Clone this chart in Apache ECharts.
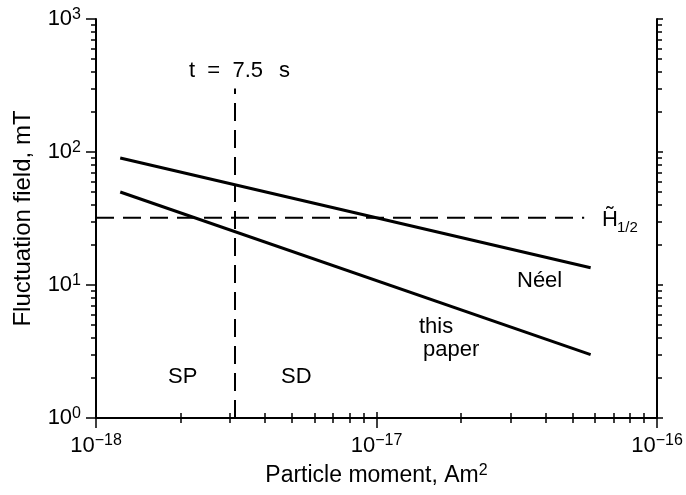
<!DOCTYPE html>
<html><head><meta charset="utf-8">
<script src="https://cdn.jsdelivr.net/npm/echarts@6/dist/echarts.min.js"></script>
<style>html,body{margin:0;padding:0;background:#fff}#c{width:686px;height:495px}</style>
</head><body><div id="c"></div>
<script>
// ---- data (real units) ----
const xMajorTicks = [1e-18, 1e-17, 1e-16];
const yMajorTicks = [1, 10, 100, 1000];
const xTickLabels = ['10{s|−18}', '10{s|−17}', '10{s|−16}'];
const yTickLabels = ['10{s|0}', '10{s|1}', '10{s|2}', '10{s|3}'];
const minorMultipliers = [2, 3, 4, 5, 6, 7, 8, 9];
const neelX = [1.22e-18, 5.8e-17];
const neelY = [90, 13.5];
const paperX = [1.22e-18, 5.8e-17];
const paperY = [50, 3.0];
const hLineX = [1e-18, 5.5e-17];
const hLineY = [32, 32];
const vLineX = [3.13e-18, 3.13e-18];
const vLineY = [1, 300];

const L = Math.log10;
const FONT = '"Liberation Sans", Arial, sans-serif';
const xMinL = L(xMajorTicks[0]), xMaxL = L(xMajorTicks[xMajorTicks.length - 1]);
const yMinL = L(yMajorTicks[0]), yMaxL = L(yMajorTicks[yMajorTicks.length - 1]);

function minors(majors) {
  const out = [];
  for (let i = 0; i < majors.length - 1; i++) minorMultipliers.forEach(m => out.push(L(majors[i] * m)));
  return out;
}
const xMinorL = minors(xMajorTicks);
const yMinorL = minors(yMajorTicks);

function labelFor(majors, labels) {
  return v => {
    for (let i = 0; i < majors.length; i++) if (Math.abs(L(majors[i]) - v) < 1e-6) return labels[i];
    return '';
  };
}
const richSup = {
  b: {fontSize: 22, fontFamily: FONT, color: '#000', lineHeight: 25},
  s: {fontSize: 16, fontFamily: FONT, color: '#000', verticalAlign: 'top', lineHeight: 16}
};
const lineSt = {show: true, lineStyle: {color: '#000', width: 2}};

function makeAxis(pos, minL, maxL, majors, labels, isMinor, showLabels, showLine) {
  const ax = {
    type: 'value', position: pos, min: minL, max: maxL, interval: 1,
    splitLine: {show: false},
    axisLine: showLine ? lineSt : {show: false},
    axisTick: {show: true, inside: false, length: isMinor ? 5 : 10, lineStyle: {color: '#000', width: 1.5}},
    axisLabel: {show: false}
  };
  if (isMinor) ax.axisTick.customValues = (pos === 'bottom' || pos === 'top') ? xMinorL : yMinorL;
  if (pos === 'top' || pos === 'right') { ax.axisTick.length = isMinor ? 5 : 6; }
  if (showLabels) {
    const f = labelFor(majors, labels);
    ax.axisLabel = {
      show: true, margin: 15,
      formatter: v => '{b|' + f(v).replace(/\{s\|/, '}{s|'),
      rich: richSup
    };
  }
  return ax;
}

const xAxes = [
  makeAxis('bottom', xMinL, xMaxL, xMajorTicks, xTickLabels, false, true, true),
  makeAxis('bottom', xMinL, xMaxL, xMajorTicks, xTickLabels, true, false, false),
  makeAxis('top', xMinL, xMaxL, xMajorTicks, xTickLabels, false, false, true),
  makeAxis('top', xMinL, xMaxL, xMajorTicks, xTickLabels, true, false, false)
];
const yAxes = [
  makeAxis('left', yMinL, yMaxL, yMajorTicks, yTickLabels, false, true, true),
  makeAxis('left', yMinL, yMaxL, yMajorTicks, yTickLabels, true, false, false),
  makeAxis('right', yMinL, yMaxL, yMajorTicks, yTickLabels, false, false, true),
  makeAxis('right', yMinL, yMaxL, yMajorTicks, yTickLabels, true, false, false)
];
xAxes[0].name = '{b|Particle moment, Am}{s|2}';
xAxes[0].nameLocation = 'middle';
xAxes[0].nameGap = 45;
xAxes[0].nameTextStyle = {rich: {
  b: {fontSize: 23, fontFamily: FONT, color: '#000', lineHeight: 26},
  s: {fontSize: 16, fontFamily: FONT, color: '#000', verticalAlign: 'top', lineHeight: 16}
}};
yAxes[0].name = 'Fluctuation field, mT';
yAxes[0].nameLocation = 'middle';
yAxes[0].nameGap = 59;
yAxes[0].nameTextStyle = {fontSize: 24, fontFamily: FONT, color: '#000', lineHeight: 26};

function pairs(xs, ys) { return xs.map((x, i) => [L(x), L(ys[i])]); }
function lineSeries(name, xs, ys, width, dashed) {
  return {
    name, type: 'line', xAxisIndex: 0, yAxisIndex: 0, data: pairs(xs, ys),
    showSymbol: false, symbol: 'none', silent: true, animation: false,
    lineStyle: {color: '#000', width, type: dashed ? [18, 9] : 'solid', cap: 'butt'}
  };
}

function txt(text, x, y, size, align) {
  return {type: 'text', x, y, style: {text, font: size + 'px ' + FONT, fill: '#000',
    align: align || 'left', verticalAlign: 'middle'}};
}

const chart = echarts.init(document.getElementById('c'), null, {renderer: 'canvas'});
chart.setOption({
  backgroundColor: '#fff',
  animation: false,
  grid: {left: 96, right: 29, top: 19, bottom: 77, containLabel: false},
  xAxis: xAxes,
  yAxis: yAxes,
  series: [
    lineSeries('Néel', neelX, neelY, 3, false),
    lineSeries('this paper', paperX, paperY, 3, false),
    lineSeries('H1/2', hLineX, hLineY, 2, true),
    lineSeries('t = 7.5 s', vLineX, vLineY, 2, true)
  ],
  graphic: [
    txt('t  =  7.5', 189, 71, 22),
    txt('s', 279, 71, 22),
    txt('SP', 168, 377, 22),
    txt('SD', 281, 377, 22),
    txt('Néel', 517, 281, 22),
    txt('this', 419, 327, 22),
    txt('paper', 423, 350, 22),
    txt('H\u0303', 602, 220, 22),
    txt('1/2', 617, 228, 15)
  ]
});
</script></body></html>
